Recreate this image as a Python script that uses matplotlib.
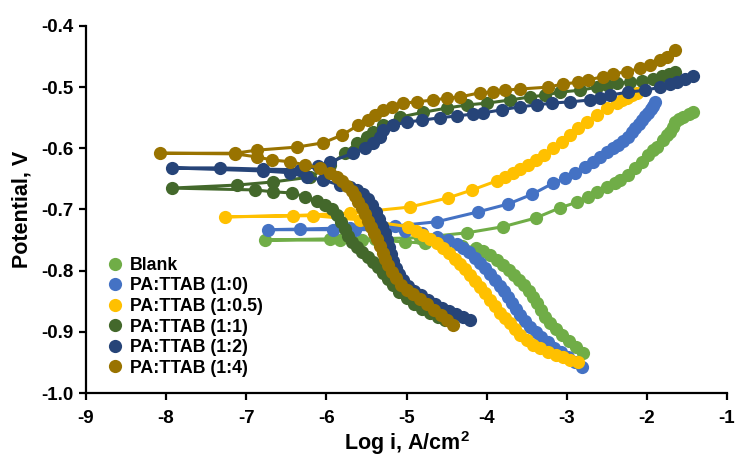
import matplotlib
matplotlib.use("Agg")
import matplotlib.pyplot as plt
from matplotlib.lines import Line2D

plt.rcParams['font.family'] = ['Liberation Sans', 'DejaVu Sans']
plt.rcParams['font.weight'] = 'bold'
plt.rcParams['axes.unicode_minus'] = False
plt.rcParams['mathtext.fontset'] = 'custom'
plt.rcParams['mathtext.bf'] = 'Liberation Sans:bold'
plt.rcParams['mathtext.rm'] = 'Liberation Sans:bold'

# ---- data (cathodic branch from its end to Ecorr, then anodic branch) ----
series_names = ["Blank", "PA:TTAB (1:0)", "PA:TTAB (1:0.5)",
                "PA:TTAB (1:1)", "PA:TTAB (1:2)", "PA:TTAB (1:4)"]
series_colors = ["#70AD47", "#4472C4", "#FFC000", "#43682B", "#264478", "#997300"]

blank_logi = [-2.80, -2.88, -2.97, -3.06, -3.13, -3.21, -3.27, -3.32, -3.37, -3.42, -3.47, -3.53,
              -3.59, -3.66, -3.72, -3.79, -3.87, -3.96, -4.04, -4.13, -4.31, -4.52, -4.77, -5.02,
              -5.27, -5.55, -5.83, -6.77,
              -5.95, -5.39, -4.83, -4.24, -3.79, -3.39, -3.08, -2.87, -2.73, -2.62, -2.50, -2.40,
              -2.33, -2.23, -2.15, -2.06, -1.98, -1.92, -1.87, -1.80, -1.75, -1.71, -1.67, -1.65,
              -1.60, -1.55, -1.48, -1.43]
blank_E = [-0.934, -0.925, -0.915, -0.905, -0.895, -0.885, -0.876, -0.864, -0.853, -0.843, -0.833, -0.823,
           -0.815, -0.807, -0.799, -0.791, -0.782, -0.774, -0.768, -0.763, -0.759, -0.756, -0.755, -0.753,
           -0.751, -0.750, -0.750, -0.750,
           -0.748, -0.748, -0.746, -0.738, -0.728, -0.714, -0.697, -0.688, -0.679, -0.671, -0.663, -0.657,
           -0.652, -0.643, -0.632, -0.622, -0.611, -0.603, -0.598, -0.586, -0.578, -0.573, -0.565, -0.557,
           -0.552, -0.549, -0.544, -0.541]

r10_logi = [-2.81, -2.90, -2.98, -3.07, -3.16, -3.24, -3.32, -3.39, -3.46, -3.52, -3.58, -3.63,
            -3.68, -3.73, -3.78, -3.83, -3.89, -3.96, -4.02, -4.08, -4.14, -4.22, -4.29, -4.37,
            -4.48, -4.62, -4.81, -5.02, -5.33, -5.64, -5.92, -6.73,
            -6.33, -5.70, -5.14, -4.62, -4.11, -3.73, -3.43, -3.17, -3.02, -2.90, -2.77, -2.67,
            -2.58, -2.50, -2.42, -2.36, -2.30, -2.23, -2.18, -2.15, -2.10, -2.06, -2.02, -1.98,
            -1.95, -1.92, -1.90]
r10_E = [-0.957, -0.949, -0.941, -0.933, -0.926, -0.916, -0.908, -0.900, -0.892, -0.882, -0.872, -0.862,
         -0.853, -0.843, -0.833, -0.825, -0.815, -0.805, -0.795, -0.787, -0.779, -0.769, -0.763, -0.756,
         -0.750, -0.745, -0.738, -0.735, -0.733, -0.733, -0.733, -0.733,
         -0.732, -0.730, -0.727, -0.720, -0.704, -0.691, -0.675, -0.657, -0.648, -0.640, -0.630, -0.622,
         -0.614, -0.606, -0.599, -0.594, -0.588, -0.581, -0.573, -0.567, -0.560, -0.554, -0.547, -0.542,
         -0.536, -0.531, -0.524]

r105_logi = [-2.86, -2.96, -3.05, -3.14, -3.24, -3.33, -3.42, -3.49, -3.58, -3.64, -3.71, -3.77,
             -3.83, -3.89, -3.96, -4.02, -4.08, -4.14, -4.21, -4.27, -4.33, -4.39, -4.47, -4.54,
             -4.62, -4.71, -4.79, -4.88, -4.98, -5.58, -6.17, -7.26,
             -6.42, -5.70, -4.96, -4.48, -4.18, -3.87, -3.77, -3.67, -3.58, -3.48, -3.39, -3.29,
             -3.17, -3.06, -2.96, -2.86, -2.75, -2.62, -2.50, -2.37, -2.31, -2.25, -2.18, -2.12]
r105_E = [-0.949, -0.946, -0.941, -0.938, -0.933, -0.926, -0.921, -0.913, -0.905, -0.895, -0.885, -0.877,
          -0.869, -0.858, -0.848, -0.836, -0.826, -0.817, -0.807, -0.797, -0.789, -0.781, -0.771, -0.763,
          -0.755, -0.748, -0.742, -0.735, -0.728, -0.717, -0.710, -0.712,
          -0.710, -0.706, -0.696, -0.681, -0.668, -0.653, -0.647, -0.640, -0.634, -0.627, -0.619, -0.611,
          -0.599, -0.590, -0.578, -0.567, -0.557, -0.545, -0.534, -0.526, -0.521, -0.518, -0.513, -0.509]

r11_logi = [-4.52, -4.61, -4.71, -4.81, -4.91, -5.00, -5.09, -5.17, -5.23, -5.29, -5.35, -5.42,
            -5.48, -5.55, -5.62, -5.68, -5.73, -5.77, -5.82, -5.87, -5.93, -6.02, -6.12, -6.27,
            -6.43, -6.67, -6.89, -7.93,
            -7.11, -6.67, -6.20, -5.95, -5.77, -5.62, -5.49, -5.42, -5.29, -5.08, -4.79, -4.49,
            -4.24, -3.99, -3.71, -3.46, -3.27, -3.08, -2.83, -2.62, -2.50, -2.37, -2.21, -2.06,
            -1.92, -1.81, -1.73, -1.65]
r11_E = [-0.880, -0.876, -0.869, -0.862, -0.854, -0.844, -0.835, -0.823, -0.813, -0.804, -0.794, -0.786,
         -0.777, -0.769, -0.761, -0.753, -0.743, -0.732, -0.720, -0.709, -0.699, -0.692, -0.686, -0.679,
         -0.673, -0.671, -0.668, -0.665,
         -0.660, -0.655, -0.647, -0.627, -0.608, -0.591, -0.581, -0.573, -0.562, -0.549, -0.541, -0.534,
         -0.529, -0.526, -0.521, -0.516, -0.513, -0.508, -0.505, -0.500, -0.496, -0.493, -0.492, -0.490,
         -0.487, -0.482, -0.478, -0.475]

r12_logi = [-4.21, -4.29, -4.38, -4.47, -4.56, -4.64, -4.73, -4.82, -4.91, -4.98, -5.04, -5.09,
            -5.13, -5.17, -5.19, -5.22, -5.24, -5.27, -5.30, -5.34, -5.38, -5.43, -5.48, -5.54,
            -5.62, -5.70, -5.83, -6.04, -6.24, -6.45, -6.79, -7.93,
            -7.33, -6.79, -6.33, -6.10, -5.95, -5.67, -5.52, -5.42, -5.33, -5.29, -5.17, -4.99,
            -4.81, -4.58, -4.37, -4.17, -4.04, -3.81, -3.58, -3.37, -3.18, -2.96, -2.71, -2.58,
            -2.46, -2.23, -2.02, -1.83, -1.71, -1.62, -1.52, -1.42]
r12_E = [-0.880, -0.876, -0.871, -0.866, -0.861, -0.854, -0.848, -0.840, -0.833, -0.825, -0.815, -0.805,
         -0.795, -0.784, -0.773, -0.761, -0.750, -0.738, -0.727, -0.715, -0.704, -0.692, -0.683, -0.675,
         -0.668, -0.663, -0.660, -0.652, -0.647, -0.640, -0.637, -0.632,
         -0.632, -0.634, -0.635, -0.629, -0.622, -0.608, -0.599, -0.591, -0.581, -0.570, -0.562, -0.557,
         -0.554, -0.550, -0.547, -0.544, -0.542, -0.537, -0.532, -0.529, -0.526, -0.524, -0.521, -0.518,
         -0.513, -0.508, -0.505, -0.500, -0.495, -0.492, -0.487, -0.482]

r14_logi = [-4.42, -4.49, -4.57, -4.66, -4.74, -4.83, -4.92, -4.99, -5.07, -5.13, -5.18, -5.23,
            -5.27, -5.29, -5.33, -5.37, -5.40, -5.44, -5.48, -5.52, -5.55, -5.60, -5.64, -5.68,
            -5.74, -5.80, -5.87, -5.95, -6.08, -6.27, -6.45, -6.68, -6.87, -7.14, -8.08,
            -7.14, -6.87, -6.37, -6.04, -5.80, -5.60, -5.48, -5.39, -5.29, -5.18, -5.04, -4.87,
            -4.67, -4.49, -4.33, -4.08, -3.92, -3.77, -3.58, -3.24, -3.05, -2.86, -2.73, -2.55,
            -2.42, -2.25, -2.08, -1.96, -1.83, -1.75, -1.65]
r14_E = [-0.889, -0.880, -0.872, -0.864, -0.854, -0.846, -0.838, -0.831, -0.823, -0.812, -0.802, -0.791,
         -0.781, -0.771, -0.759, -0.748, -0.738, -0.728, -0.719, -0.707, -0.697, -0.688, -0.678, -0.670,
         -0.661, -0.653, -0.647, -0.640, -0.632, -0.627, -0.622, -0.619, -0.614, -0.609, -0.608,
         -0.608, -0.603, -0.598, -0.591, -0.578, -0.562, -0.554, -0.545, -0.537, -0.532, -0.526, -0.524,
         -0.521, -0.518, -0.516, -0.509, -0.508, -0.505, -0.503, -0.500, -0.495, -0.492, -0.488, -0.483,
         -0.478, -0.475, -0.469, -0.464, -0.456, -0.451, -0.439]

x_ticks = [-9, -8, -7, -6, -5, -4, -3, -2, -1]
y_ticks = [-1.0, -0.9, -0.8, -0.7, -0.6, -0.5, -0.4]

series_x = [blank_logi, r10_logi, r105_logi, r11_logi, r12_logi, r14_logi]
series_y = [blank_E, r10_E, r105_E, r11_E, r12_E, r14_E]

# ---- figure ----
fig = plt.figure(figsize=(7.36, 4.57), dpi=100)
ax = fig.add_axes([86 / 736, 64 / 457, 641 / 736, 367 / 457])

for xs, ys, c in zip(series_x, series_y, series_colors):
    ax.plot(xs, ys, color=c, lw=2.2, marker='o', markersize=9.5, markeredgewidth=0,
            solid_joinstyle='round', clip_on=False)

ax.set_xlim(-9, -1)
ax.set_ylim(-1.0, -0.4)
ax.set_xticks(x_ticks)
ax.set_yticks(y_ticks)
ax.set_xticklabels([str(t) for t in x_ticks])
ax.set_yticklabels([f"{t:.1f}" for t in y_ticks])
for s in ['top', 'right']:
    ax.spines[s].set_visible(False)
for s in ['left', 'bottom']:
    ax.spines[s].set_linewidth(1.6)
ax.tick_params(direction='out', length=5, width=1.6, labelsize=13.5)
ax.tick_params(axis='x', pad=7)
ax.tick_params(axis='y', pad=4)
for lab in ax.get_xticklabels() + ax.get_yticklabels():
    lab.set_fontweight('bold')

ax.set_xlabel(r'Log i, A/cm$^\mathbf{2}$', fontsize=15.5, fontweight='bold', labelpad=2)
ax.set_ylabel('Potential, V', fontsize=15.5, fontweight='bold', labelpad=6)

handles = [Line2D([], [], ls='none', marker='o', markersize=9.5, markeredgewidth=0, color=c)
           for c in series_colors]
leg = ax.legend(handles, series_names, loc='lower left', bbox_to_anchor=(0.021, 0.025),
                frameon=False, handlelength=1.0, handletextpad=0.3, labelspacing=0.2,
                prop={'weight': 'bold', 'size': 12.8}, borderaxespad=0)

fig.savefig('out.png', dpi=100)
